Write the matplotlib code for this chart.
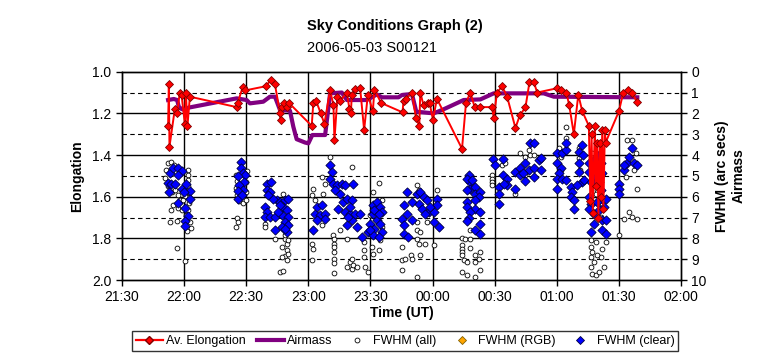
import numpy as np
import matplotlib
matplotlib.use("Agg")
import matplotlib.pyplot as plt
from matplotlib.lines import Line2D

plt.rcParams['font.family'] = ['Liberation Sans', 'DejaVu Sans']

# time in decimal hours UT (values >= 24 are after midnight)
elong_time = [21.871, 21.877, 21.882, 21.925, 21.944, 21.965, 21.979, 22.006, 22.014, 22.027, 22.046,
              22.423, 22.431, 22.471, 22.490, 22.656, 22.699, 22.731, 22.772, 22.777, 22.785, 22.806,
              22.826, 22.844, 23.027, 23.040, 23.062, 23.100, 23.129, 23.175, 23.202, 23.210, 23.234,
              23.256, 23.310, 23.331, 23.342, 23.350, 23.377, 23.417, 23.449, 23.479, 23.519, 23.532,
              23.586, 23.758, 23.766, 23.788, 23.834, 23.866, 23.893, 23.901, 23.927, 23.960, 23.976,
              24.003, 24.035, 24.237, 24.269, 24.304, 24.339, 24.385, 24.479, 24.492, 24.519, 24.560,
              24.600, 24.667, 24.702, 24.748, 24.780, 24.815, 24.842, 24.998, 25.031, 25.076, 25.100,
              25.137, 25.173, 25.205, 25.258, 25.270, 25.280, 25.290, 25.306, 25.315, 25.326, 25.335,
              25.347, 25.356, 25.366, 25.375, 25.387, 25.393, 25.500, 25.535, 25.573, 25.608, 25.643]
elong_val = [1.26, 1.06, 1.36, 1.18, 1.20, 1.10, 1.11, 1.25, 1.10, 1.26, 1.12,
             1.17, 1.15, 1.075, 1.09, 1.07, 1.04, 1.06, 1.20, 1.23, 1.17, 1.15,
             1.17, 1.15, 1.26, 1.15, 1.14, 1.20, 1.25, 1.09, 1.16, 1.33, 1.12,
             1.14, 1.10, 1.18, 1.20, 1.11, 1.085, 1.08, 1.28, 1.11, 1.19, 1.086,
             1.15, 1.195, 1.14, 1.13, 1.10, 1.22, 1.26, 1.10, 1.16, 1.15, 1.15,
             1.23, 1.13, 1.37, 1.15, 1.10, 1.17, 1.17, 1.17, 1.22, 1.10, 1.07,
             1.12, 1.27, 1.21, 1.17, 1.05, 1.05, 1.10, 1.08, 1.09, 1.10, 1.16,
             1.30, 1.11, 1.19, 1.26, 1.62, 1.30, 1.68, 1.26, 1.55, 1.34, 1.70,
             1.34, 1.60, 1.28, 1.66, 1.28, 1.34, 1.19, 1.10, 1.09, 1.10, 1.145]

airmass_time = [21.871, 21.917, 21.944, 21.957, 21.979, 22.006, 22.032, 22.423, 22.503, 22.530,
                22.637, 22.691, 22.731, 22.772, 22.852, 22.879, 22.906, 22.973, 23.000, 23.032,
                23.135, 23.148, 23.175, 23.269, 23.310, 23.471, 23.552, 23.592, 23.726, 23.753,
                23.834, 23.869, 24.008, 24.076, 24.250, 24.385, 24.492, 24.895, 24.976, 25.648]
airmass_val = [1.36, 1.31, 1.36, 1.68, 1.79, 1.84, 1.73, 1.28, 1.36, 1.52,
               1.44, 1.20, 1.20, 1.84, 1.87, 2.64, 3.24, 3.40, 3.44, 3.04,
               3.04, 2.40, 1.04, 1.00, 1.36, 1.36, 1.09, 1.23, 1.23, 1.12,
               1.07, 1.92, 2.00, 1.84, 1.36, 1.33, 1.04, 1.04, 1.20, 1.23]

fwhm_all_time = [21.869, 21.893, 21.917, 21.852, 21.844, 21.869, 21.901, 21.925, 21.949, 21.965,
                 21.909, 21.949, 21.981, 22.030, 22.030, 22.030, 22.030, 22.030, 22.038, 22.038,
                 22.030, 22.014, 22.046, 22.054, 22.022, 21.885, 21.939, 21.898, 21.939, 22.006,
                 21.990, 22.006,
                 22.417, 22.425, 22.417, 22.425, 22.441, 22.473, 22.498, 22.498, 22.498, 22.506,
                 22.425, 22.417, 22.433,
                 22.798, 22.812, 22.826, 22.785, 22.826, 22.812, 22.785, 22.826, 22.772, 22.798,
                 22.839, 22.731, 22.651, 22.651, 22.812, 22.839,
                 23.027, 23.040, 23.054, 23.027, 23.040, 23.027, 23.202, 23.207, 23.205, 23.205,
                 23.207, 23.205, 23.205, 23.205, 23.175, 23.108, 23.135, 23.121, 23.310, 23.336,
                 23.310, 23.350, 23.256, 23.108,
                 23.565, 23.524, 23.592, 23.498, 23.444, 23.444, 23.444, 23.457, 23.484, 23.524,
                 23.565, 23.579, 23.363, 23.390, 23.350, 23.350, 23.511, 23.592,
                 23.875, 23.887, 24.035, 23.875, 23.875, 23.875, 23.887, 23.901, 23.823, 23.834,
                 23.753, 23.780, 23.753, 23.875, 24.008, 23.940, 23.753, 23.901, 23.955,
                 24.237, 24.264, 24.304, 24.237, 24.237, 24.237, 24.237, 24.250, 24.278, 24.237,
                 24.278, 24.344, 24.304, 24.344, 24.385, 24.371, 24.344, 24.385, 24.304,
                 24.479, 24.479, 24.479, 24.479, 24.560, 24.587, 24.587, 24.667, 24.707, 24.774,
                 24.748, 24.788, 24.815, 24.740,
                 25.016, 25.030, 25.030, 25.071, 25.071, 25.177, 25.177, 25.190, 25.286, 25.298,
                 25.326, 25.352, 25.272, 25.312, 25.272, 25.286, 25.272, 25.298, 25.272, 25.286,
                 25.312, 25.339, 25.366, 25.352, 25.379, 25.326, 25.393, 25.540, 25.581, 25.608,
                 25.648, 25.568, 25.608, 25.635, 25.621, 25.648, 25.553, 25.500, 25.312, 25.366]
fwhm_all_val = [4.39, 4.34, 4.49, 4.73, 5.11, 5.50, 5.79, 5.69, 5.93, 6.17,
                6.41, 6.55, 6.65, 4.73, 4.97, 5.20, 5.50, 5.79, 6.03, 6.31,
                6.65, 6.89, 7.22, 7.51, 7.66, 7.20, 7.16, 6.62, 8.46, 9.09,
                6.17, 5.98,
                4.97, 5.25, 5.59, 5.93, 6.22, 6.31, 6.17, 5.79, 5.31, 4.77,
                7.03, 7.47, 7.23,
                5.85, 8.01, 8.25, 8.41, 8.57, 8.86, 8.89, 9.05, 9.62, 9.57,
                8.73, 8.01, 7.29, 7.45, 7.85, 8.09,
                5.93, 5.61, 6.17, 8.25, 8.49, 9.05, 7.85, 8.01, 8.25, 8.41,
                8.65, 8.97, 9.18, 9.66, 4.09, 5.05, 5.37, 5.85, 8.01, 9.13,
                9.38, 9.45, 7.61, 7.37,
                5.32, 5.77, 6.17, 6.89, 8.17, 8.57, 8.89, 9.38, 9.62, 8.73,
                8.57, 8.09, 9.29, 9.38, 8.97, 4.57, 8.41, 7.45,
                5.45, 5.69, 5.69, 7.21, 7.61, 8.01, 8.25, 8.81, 8.81, 8.97,
                9.05, 8.97, 9.53, 9.86, 8.33, 8.25, 8.41, 7.69, 7.21,
                7.98, 8.04, 8.04, 8.33, 8.49, 8.65, 8.81, 9.05, 9.13, 9.62,
                9.77, 9.86, 8.44, 8.81, 8.65, 8.97, 9.13, 9.50, 7.58,
                4.97, 5.13, 5.29, 5.45, 4.49, 4.40, 5.37, 5.85, 3.92, 3.76,
                4.09, 4.00, 4.00, 4.97,
                3.68, 4.09, 4.73, 3.20, 2.64, 3.68, 4.16, 4.73, 3.92, 4.73,
                5.69, 6.97, 8.09, 8.17, 8.41, 8.65, 8.89, 9.13, 9.38, 9.69,
                9.77, 9.62, 8.49, 8.89, 9.38, 8.81, 8.17, 7.05, 6.73, 6.97,
                7.05, 3.28, 3.28, 3.92, 4.73, 5.61, 5.05, 7.85, 5.85, 6.33]

fwhm_rgb_time = []
fwhm_rgb_val = []

fwhm_clear_time = [21.885, 21.911, 21.947, 21.984, 21.947, 21.871, 21.898, 21.925, 21.879, 21.979,
                   22.019, 22.046, 22.000, 22.046, 21.947, 22.011, 22.032, 22.011, 22.011,
                   22.457, 22.457, 22.476, 22.490, 22.435, 22.484, 22.441, 22.476, 22.435, 22.435,
                   22.463,
                   22.665, 22.699, 22.665, 22.691, 22.651, 22.665, 22.651, 22.691, 22.731, 22.745,
                   22.772, 22.812, 22.839, 22.798, 22.826, 22.785, 22.839, 22.812, 22.839, 22.785,
                   22.731, 22.826, 22.772, 22.758, 22.812, 22.718, 22.677,
                   23.054, 23.068, 23.108, 23.094, 23.135, 23.135, 23.068, 23.040, 23.175, 23.189,
                   23.175, 23.202, 23.229, 23.269, 23.296, 23.256, 23.215, 23.282, 23.310, 23.350,
                   23.242, 23.296, 23.336, 23.350, 23.310, 23.336, 23.323,
                   23.363, 23.377, 23.417, 23.431, 23.390, 23.484, 23.524, 23.552, 23.579, 23.592,
                   23.524, 23.552, 23.579, 23.498, 23.532, 23.592, 23.524, 23.565, 23.498, 23.532,
                   23.565,
                   23.794, 23.766, 23.753, 23.766, 23.766, 23.806, 23.794, 23.834, 23.834, 23.875,
                   23.901, 23.927, 23.887, 23.915, 23.955, 23.968, 24.008, 24.008, 24.048, 24.035,
                   24.035, 23.981, 23.940,
                   24.290, 24.304, 24.278, 24.304, 24.278, 24.344, 24.344, 24.385, 24.371, 24.344,
                   24.278, 24.278, 24.344, 24.304, 24.385, 24.290, 24.278, 24.385, 24.344, 24.385,
                   24.318,
                   24.484, 24.500, 24.565, 24.565, 24.532, 24.532, 24.532, 24.600, 24.600, 24.573,
                   24.667, 24.667, 24.707, 24.707, 24.748, 24.748, 24.774, 24.815, 24.815, 24.855,
                   24.788, 24.815, 24.726, 24.869, 24.869,
                   25.003, 25.044, 25.071, 25.071, 25.003, 25.030, 25.016, 25.003, 25.003, 25.044,
                   25.071, 25.111, 25.124, 25.111, 25.137, 25.137, 25.177, 25.205, 25.213, 25.177,
                   25.177, 25.205, 25.165, 25.218, 25.258, 25.258, 25.272, 25.258, 25.272, 25.258,
                   25.298, 25.298, 25.272, 25.298, 25.312, 25.339, 25.352, 25.366, 25.339, 25.352,
                   25.366, 25.393, 25.379, 25.339, 25.366, 25.393, 25.366, 25.393, 25.326,
                   25.500, 25.500, 25.500, 25.540, 25.568, 25.581, 25.621, 25.648, 25.608, 25.540]
fwhm_clear_val = [4.86, 4.64, 4.60, 4.76, 4.97, 5.34, 5.37, 5.41, 5.77, 5.65,
                  5.41, 5.72, 5.77, 6.09, 6.28, 6.54, 6.94, 7.16, 7.40,
                  4.33, 4.64, 4.88, 4.97, 5.01, 5.29, 5.45, 5.69, 5.72, 6.13,
                  5.93,
                  5.37, 5.29, 5.69, 5.77, 6.49, 6.73, 6.97, 6.97, 6.97, 6.17,
                  6.25, 6.17, 6.13, 6.49, 6.65, 6.89, 6.97, 7.21, 7.37, 7.45,
                  7.61, 7.69, 6.41, 6.73, 7.53, 6.09, 5.93,
                  6.81, 6.49, 6.41, 6.89, 6.81, 7.05, 7.13, 7.61, 4.49, 4.81,
                  5.13, 5.37, 5.45, 5.37, 5.45, 5.85, 5.69, 6.25, 6.09, 6.17,
                  6.57, 6.73, 6.81, 7.13, 7.37, 6.49, 6.97,
                  5.37, 6.81, 6.81, 7.93, 7.45, 7.69, 6.41, 6.25, 6.49, 6.73,
                  6.81, 7.13, 7.29, 7.29, 7.53, 7.69, 7.85, 7.93, 7.61, 6.65,
                  6.81,
                  5.77, 6.41, 7.05, 7.37, 7.77, 7.93, 6.81, 7.13, 6.25, 5.85,
                  5.77, 6.01, 6.33, 6.57, 6.17, 6.73, 6.73, 7.21, 7.45, 6.09,
                  6.41, 6.49, 6.81,
                  4.97, 5.29, 5.13, 5.61, 5.69, 5.53, 5.85, 5.77, 6.01, 6.17,
                  6.25, 6.49, 6.57, 6.73, 6.73, 7.00, 7.16, 7.29, 7.61, 7.80,
                  5.21,
                  4.17, 4.49, 4.17, 4.97, 5.53, 5.88, 6.36, 5.13, 5.45, 5.37,
                  4.81, 5.61, 4.64, 4.97, 4.40, 5.24, 4.73, 5.05, 4.64, 4.25,
                  3.44, 3.44, 4.88, 4.16, 4.73,
                  3.92, 3.92, 3.76, 3.44, 4.40, 4.64, 4.88, 5.13, 5.61, 5.13,
                  5.21, 5.53, 5.77, 6.01, 6.17, 6.57, 3.85, 3.52, 4.00, 4.40,
                  4.81, 5.29, 5.45, 5.21, 4.40, 4.81, 5.29, 6.01, 6.33, 6.57,
                  6.81, 7.29, 7.69, 4.25, 5.05, 4.00, 4.40, 4.88, 5.29, 5.69,
                  6.09, 6.09, 6.49, 6.65, 7.13, 7.13, 7.61, 7.77, 6.25,
                  5.37, 5.61, 5.85, 4.73, 4.40, 4.09, 4.40, 4.49, 3.68, 4.49]

x_ticks = [21.5, 22.0, 22.5, 23.0, 23.5, 24.0, 24.5, 25.0, 25.5, 26.0]
x_labels = ['21:30', '22:00', '22:30', '23:00', '23:30', '00:00', '00:30', '01:00', '01:30', '02:00']


def main():
    fig = plt.figure(figsize=(7.64, 3.59), dpi=100)
    ax = fig.add_axes([0.1597, 0.22, 0.7317, 0.5803])
    ax2 = ax.twinx()
    # elongation axis on top so the red line sits over the scatter
    ax.set_zorder(ax2.get_zorder() + 1)
    ax.patch.set_visible(False)
    ax2.set_facecolor('#c0c0c0')

    # grid drawn on the back axis
    for t in x_ticks[1:-1]:
        ax2.axvline(t, color='black', lw=1.0, zorder=0)
    for v in [2, 4, 6, 8]:
        ax2.axhline(v, color='black', lw=1.0, zorder=0)
    for v in [1, 3, 5, 7, 9]:
        ax2.axhline(v, color='black', lw=0.8, ls=(0, (4, 3)), zorder=0)

    ax2.scatter(fwhm_all_time, fwhm_all_val, s=12, marker='o', facecolor='white',
                edgecolor='black', linewidths=0.6, zorder=2)
    ax2.scatter(fwhm_rgb_time, fwhm_rgb_val, s=20, marker='D', facecolor='#ffa500',
                edgecolor='#806000', linewidths=0.6, zorder=3)
    ax2.scatter(fwhm_clear_time, fwhm_clear_val, s=22, marker='D', facecolor='#0000ff',
                edgecolor='#000040', linewidths=0.6, zorder=3)
    ax2.plot(airmass_time, airmass_val, color='#800080', lw=3, zorder=4)

    ax.plot(elong_time, elong_val, color='#ff0000', lw=1.4, marker='D', ms=4.2,
            mfc='#ff0000', mec='#800000', mew=0.6)

    ax.set_xlim(21.5, 26.0)
    ax.set_ylim(2.0, 1.0)
    ax2.set_ylim(10, 0)
    ax.set_xticks(x_ticks)
    ax.set_xticklabels(x_labels)
    ax.set_yticks(np.arange(1.0, 2.01, 0.2))
    ax.set_yticklabels(['%.1f' % v for v in np.arange(1.0, 2.01, 0.2)])
    ax2.set_yticks(range(0, 11))

    for a in (ax, ax2):
        a.tick_params(labelsize=10, length=4, width=1, color='black', direction='out')
        for sp in a.spines.values():
            sp.set_color('black')
            sp.set_linewidth(1)

    ax.set_xlabel('Time (UT)', fontsize=10, fontweight='bold', labelpad=1)
    ax.set_ylabel('Elongation', fontsize=10, fontweight='bold', labelpad=6)
    ax2.set_ylabel('FWHM (arc secs)\nAirmass', fontsize=10, fontweight='bold', labelpad=6)

    fig.text(0.517, 0.928, 'Sky Conditions Graph (2)', ha='center', va='center',
             fontsize=10.5, fontweight='bold')
    fig.text(0.487, 0.866, '2006-05-03 S00121', ha='center', va='center', fontsize=10.5)

    handles = [
        Line2D([], [], color='#ff0000', lw=1.6, marker='D', ms=4, mfc='#ff0000', mec='#800000'),
        Line2D([], [], color='#800080', lw=3),
        Line2D([], [], ls='none', marker='o', ms=3.5, mfc='white', mec='black', mew=0.6),
        Line2D([], [], ls='none', marker='D', ms=4, mfc='#ffa500', mec='#806000', mew=0.6),
        Line2D([], [], ls='none', marker='D', ms=4, mfc='#0000ff', mec='#000040', mew=0.6),
    ]
    labels = ['Av. Elongation', 'Airmass', 'FWHM (all)', 'FWHM (RGB)', 'FWHM (clear)']
    leg = fig.legend(handles, labels, loc='center', bbox_to_anchor=(0.53, 0.05), ncol=5,
                     fontsize=9, frameon=True, fancybox=False, edgecolor='black',
                     handlelength=2.2, columnspacing=0.9, handletextpad=0.2,
                     borderpad=0.3, borderaxespad=0.2)
    leg.get_frame().set_linewidth(1)

    fig.savefig('out.png', dpi=100)
    plt.close(fig)


if __name__ == '__main__':
    main()
